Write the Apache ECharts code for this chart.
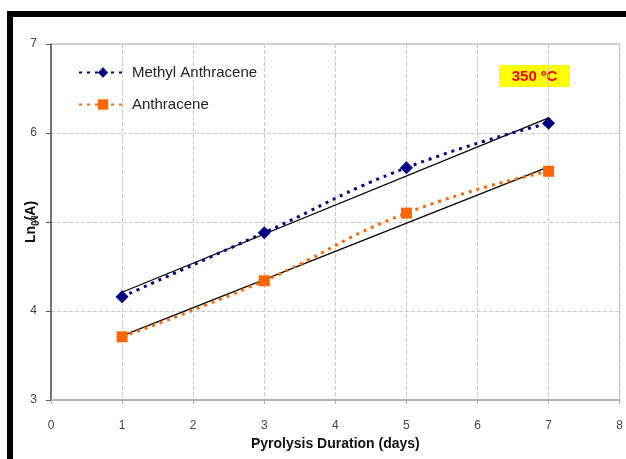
<!DOCTYPE html>
<html><head><meta charset="utf-8">
<script src="https://cdn.jsdelivr.net/npm/echarts@6/dist/echarts.min.js"></script>
<style>html,body{margin:0;padding:0;background:#fff}#c{width:626px;height:459px}</style>
</head><body><div id="c"></div>
<script>
const days = [1, 3, 5, 7];
const methylAnthracene = [4.16, 4.88, 5.61, 6.11];
const anthracene = [3.71, 4.34, 5.10, 5.57];
const trendDays = [1, 7];
const methylTrend = [4.21, 6.17];
const anthraceneTrend = [3.72, 5.62];
const xTicks = [0, 1, 2, 3, 4, 5, 6, 7, 8];
const yTicks = [3, 4, 5, 6, 7];

const pair = (xs, ys) => xs.map((x, i) => [x, ys[i]]);
const chart = echarts.init(document.getElementById('c'));
const font = 'Liberation Sans, Arial, sans-serif';
chart.setOption({
  animation: false,
  textStyle: { fontFamily: font },
  grid: { left: 51, right: 5, top: 44, bottom: 59, show: true, borderColor: '#aaa', borderWidth: 1 },
  legend: {
    orient: 'vertical', left: 73, top: 60, itemGap: 17, itemWidth: 48, itemHeight: 13,
    textStyle: { fontSize: 15, color: '#222', fontFamily: font },
    data: ['Methyl Anthracene', 'Anthracene']
  },
  xAxis: {
    type: 'value', min: xTicks[0], max: xTicks[xTicks.length - 1], interval: 1,
    name: 'Pyrolysis Duration (days)', nameLocation: 'middle', nameGap: 36,
    nameTextStyle: { fontSize: 14, fontWeight: 'bold', color: '#111' },
    axisLine: { lineStyle: { color: '#aaa', width: 1.5 } },
    axisTick: { show: true, length: 4, lineStyle: { color: '#aaa' } },
    axisLabel: { fontSize: 12, color: '#444', margin: 20 },
    splitLine: { show: true, lineStyle: { type: 'dashed', color: '#c8c8c8' } }
  },
  yAxis: {
    type: 'value', min: yTicks[0], max: yTicks[yTicks.length - 1], interval: 1,
    axisLine: { show: true, lineStyle: { color: '#555', width: 1.5 } },
    axisTick: { show: true, length: 5, lineStyle: { color: '#555' } },
    axisLabel: { fontSize: 12, color: '#444', margin: 14 },
    splitLine: { show: true, lineStyle: { type: 'dashed', color: '#c8c8c8' } }
  },
  series: [
    { name: 'Methyl Anthracene', type: 'line', data: pair(days, methylAnthracene),
      symbol: 'diamond', symbolSize: 13, smooth: true,
      itemStyle: { color: '#000080' },
      lineStyle: { color: '#000080', width: 3, type: [3, 5] } },
    { name: 'Anthracene', type: 'line', data: pair(days, anthracene),
      symbol: 'rect', symbolSize: 11, smooth: true,
      itemStyle: { color: '#FF6600' },
      lineStyle: { color: '#FF6600', width: 3, type: [3, 5] } },
    { name: 'trend1', type: 'line', data: pair(trendDays, methylTrend), symbol: 'none',
      lineStyle: { color: '#000', width: 1.2 }, z: 1 },
    { name: 'trend2', type: 'line', data: pair(trendDays, anthraceneTrend), symbol: 'none',
      lineStyle: { color: '#000', width: 1.2 }, z: 1 }
  ],
  graphic: [
    { type: 'rect', left: 7, top: 11, shape: { width: 619, height: 6 }, style: { fill: '#000' } },
    { type: 'rect', left: 7, top: 11, shape: { width: 6, height: 448 }, style: { fill: '#000' } },
    { type: 'rect', left: 499, top: 65, shape: { width: 71, height: 22 }, style: { fill: '#FFFF00' } },
    { type: 'text', x: 534.5, y: 76.5, style: { text: '350 ºC', fill: '#FF0000', font: 'bold 15px ' + font,
      textAlign: 'center', textVerticalAlign: 'middle' } },
    { type: 'text', x: 31, y: 222, rotation: Math.PI / 2,
      style: { text: 'Ln{s|0}(A)', fill: '#111', font: 'bold 14px ' + font,
        textAlign: 'center', textVerticalAlign: 'middle',
        rich: { s: { fontSize: 10, fontWeight: 'bold', fill: '#111', padding: [10, 0, 0, 0] } } } }
  ]
});
</script></body></html>
